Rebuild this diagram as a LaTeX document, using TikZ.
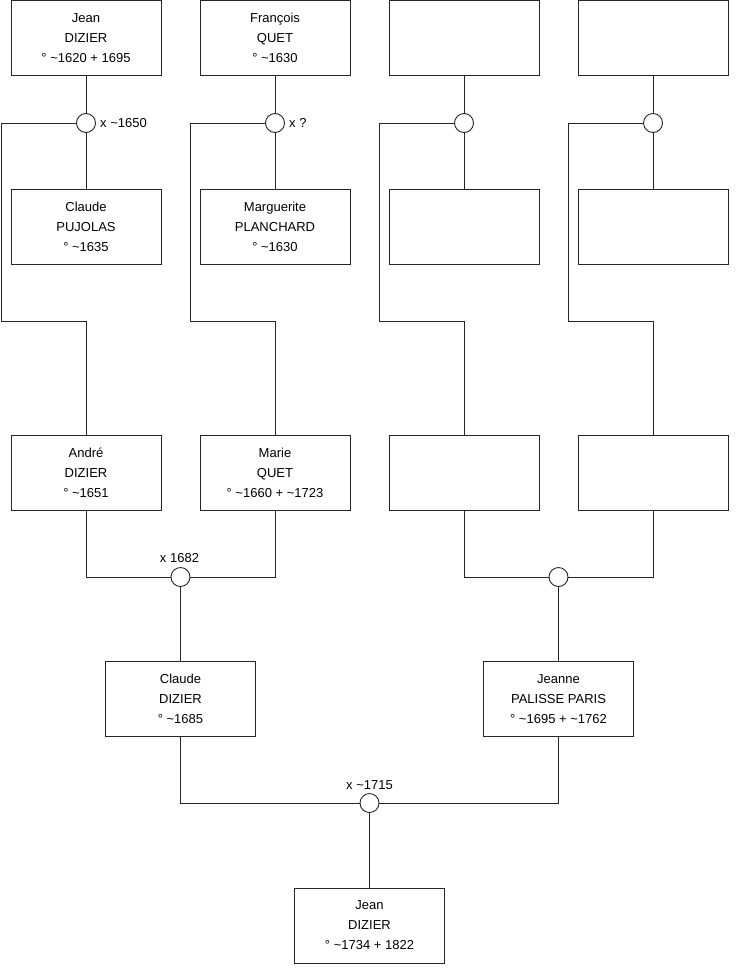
\documentclass[tikz,border=0pt]{standalone}
\usepackage{fontspec}
\setmainfont{Liberation Sans}
\begin{document}
\begin{tikzpicture}[x=1pt,y=-1pt,
  person/.style={draw=black!85,line width=0.9pt,rectangle,minimum width=150pt,minimum height=75pt,inner sep=0pt,align=center,font=\fontsize{13}{20}\selectfont},
  union/.style={draw=black!85,line width=0.9pt,circle,minimum size=19pt,inner sep=0pt,fill=white},
  link/.style={draw=black!85,line width=0.9pt},
  lbl/.style={inner sep=0pt,font=\fontsize{13}{16}\selectfont}]
\useasboundingbox (0,0) rectangle (740,975);
% top row
\node[person] (t1) at (86,38) {Jean\\DIZIER\\° \textasciitilde1620 + 1695};
\node[person] (t2) at (275,38) {François\\QUET\\° \textasciitilde1630};
\node[person] (t3) at (464,38) {};
\node[person] (t4) at (653,38) {};
% second row
\node[person] (s1) at (86,227) {Claude\\PUJOLAS\\° \textasciitilde1635};
\node[person] (s2) at (275,227) {Marguerite\\PLANCHARD\\° \textasciitilde1630};
\node[person] (s3) at (464,227) {};
\node[person] (s4) at (653,227) {};
% third row
\node[person] (a1) at (86,472.5) {André\\DIZIER\\° \textasciitilde1651};
\node[person] (a2) at (275,472.5) {Marie\\QUET\\° \textasciitilde1660 + \textasciitilde1723};
\node[person] (a3) at (464,472.5) {};
\node[person] (a4) at (653,472.5) {};
% fourth row
\node[person] (cl) at (180.5,699) {Claude\\DIZIER\\° \textasciitilde1685};
\node[person] (je) at (558.5,699) {Jeanne\\PALISSE PARIS\\° \textasciitilde1695 + \textasciitilde1762};
% bottom
\node[person] (jb) at (369.5,925.5) {Jean\\DIZIER\\° \textasciitilde1734 + 1822};
% unions
\node[union] (u1) at (86,123) {};
\node[union] (u2) at (275,123) {};
\node[union] (u3) at (464,123) {};
\node[union] (u4) at (653,123) {};
\node[union] (m1) at (180.5,577) {};
\node[union] (m2) at (558.5,577) {};
\node[union] (m3) at (369.5,803) {};
% labels
\node[lbl,anchor=west] (l1) at (100,123) {x \textasciitilde1650};
\node[lbl,anchor=west] (l2) at (289,123) {x ?};
\node[lbl] (l3) at (179.5,558) {x 1682};
\node[lbl] (l4) at (369.5,785) {x \textasciitilde1715};
% corners
\coordinate (k1) at (1.5,321.5);
\coordinate (k2) at (190.5,321.5);
\coordinate (k3) at (379.5,321.5);
\coordinate (k4) at (568.5,321.5);
% connectors
\foreach \i in {1,2,3,4}{
  \draw[link] (t\i.south) -- (u\i.north);
  \draw[link] (u\i.south) -- (s\i.north);
  \draw[link] (u\i.west) -| (k\i) -| (a\i.north);
}
\draw[link] (a1.south) |- (m1.west);
\draw[link] (a2.south) |- (m1.east);
\draw[link] (m1.south) -- (cl.north);
\draw[link] (a3.south) |- (m2.west);
\draw[link] (a4.south) |- (m2.east);
\draw[link] (m2.south) -- (je.north);
\draw[link] (cl.south) |- (m3.west);
\draw[link] (je.south) |- (m3.east);
\draw[link] (m3.south) -- (jb.north);
\end{tikzpicture}
\end{document}
